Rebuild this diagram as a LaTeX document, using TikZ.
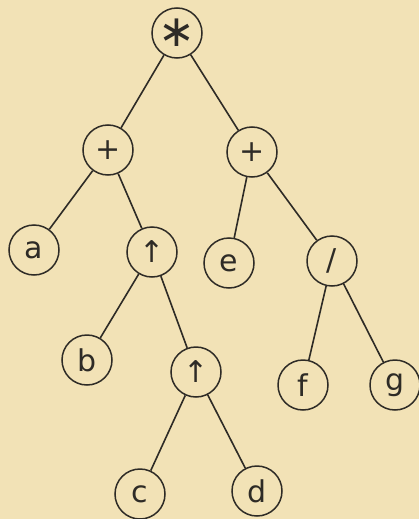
\documentclass[tikz,border=0pt]{standalone}
\usepackage{fontspec}
\newfontfamily\handfont{DejaVu Sans}
\definecolor{paper}{HTML}{F2E2B6}
\definecolor{ink}{HTML}{2E2B26}
\begin{document}
\begin{tikzpicture}[x=1pt,y=-1pt,
  tnode/.style={circle,draw=ink,line width=1.5pt,minimum size=50pt,inner sep=0pt,
    font=\handfont\fontsize{30}{30}\selectfont,text=ink},
  edge/.style={draw=ink,line width=1.6pt}]
\fill[paper] (0,0) rectangle (419,519);
\useasboundingbox (0,0) rectangle (419,519);
\node[tnode,font=\handfont\fontsize{44}{44}\selectfont] (mul) at (177,33) {∗};
\node[tnode] (pl) at (108,150) {+};
\node[tnode] (pr) at (252,152) {+};
\node[tnode] (a) at (34,250) {a};
\node[tnode] (up1) at (152,252) {↑};
\node[tnode] (e) at (229,263) {e};
\node[tnode] (div) at (332,261) {/};
\node[tnode] (b) at (87,360) {b};
\node[tnode] (up2) at (196,372) {↑};
\node[tnode] (f) at (303,385) {f};
\node[tnode] (g) at (395,385) {g};
\node[tnode] (c) at (140,494) {c};
\node[tnode] (d) at (257,491) {d};
\draw[edge] (mul) -- (pl);
\draw[edge] (mul) -- (pr);
\draw[edge] (pl) -- (a);
\draw[edge] (pl) -- (up1);
\draw[edge] (pr) -- (e);
\draw[edge] (pr) -- (div);
\draw[edge] (up1) -- (b);
\draw[edge] (up1) -- (up2);
\draw[edge] (div) -- (f);
\draw[edge] (div) -- (g);
\draw[edge] (up2) -- (c);
\draw[edge] (up2) -- (d);
\end{tikzpicture}
\end{document}
